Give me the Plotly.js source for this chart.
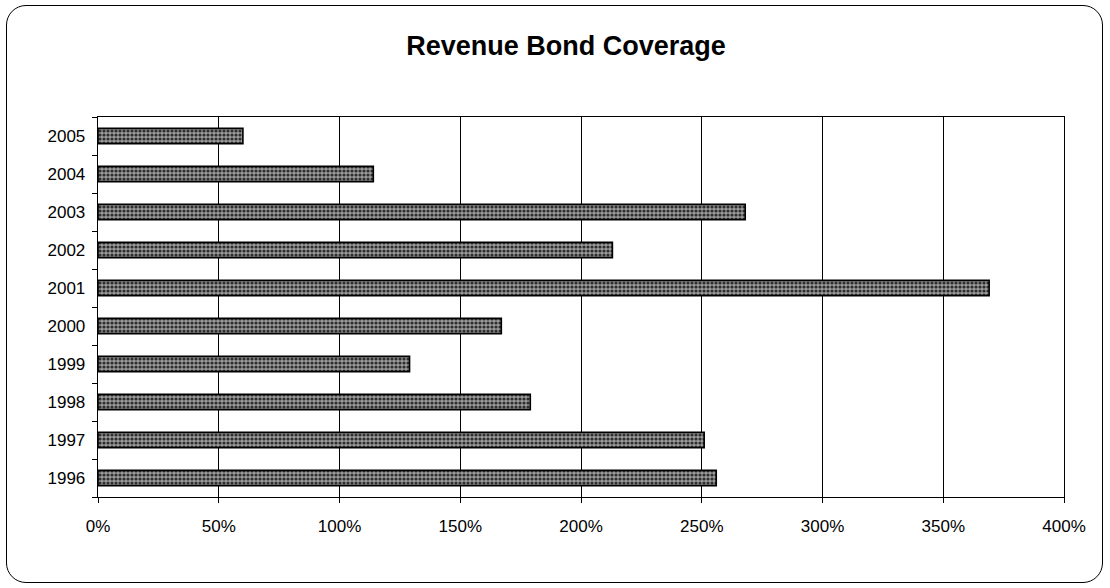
<!DOCTYPE html>
<html>
<head>
<meta charset="utf-8">
<script src="https://cdn.plot.ly/plotly-3.0.1.min.js"></script>
<style>
  html, body { margin: 0; padding: 0; background: #fff; }
  #wrap { position: relative; width: 1110px; height: 588px; }
  #frame { position: absolute; left: 6px; top: 5px; width: 1097px; height: 578px;
           border: 1.3px solid #000; border-radius: 20px; box-sizing: border-box; pointer-events: none; }
  #chart { position: absolute; left: 0; top: 0; width: 1110px; height: 588px; }
</style>
</head>
<body>
<div id="wrap">
  <div id="chart"></div>
  <div id="frame"></div>
</div>
<script>
const years = ['1996', '1997', '1998', '1999', '2000', '2001', '2002', '2003', '2004', '2005'];
const coverage = [2.56, 2.51, 1.79, 1.29, 1.67, 3.69, 2.13, 2.68, 1.14, 0.60];
const xTickVals = [0, 0.5, 1, 1.5, 2, 2.5, 3, 3.5, 4];
const xTickText = ['0%', '50%', '100%', '150%', '200%', '250%', '300%', '350%', '400%'];
const chartTitle = 'Revenue Bond Coverage';

const trace = {
  type: 'bar',
  orientation: 'h',
  y: years,
  x: coverage,
  marker: {
    color: '#8a8a8a',
    line: { color: '#000', width: 1.6 },
    pattern: { shape: '.', fgcolor: '#2e2e2e', bgcolor: '#9c9c9c', size: 4, solidity: 0.5 }
  },
  hoverinfo: 'skip'
};

const layout = {
  width: 1110,
  height: 588,
  paper_bgcolor: 'rgba(0,0,0,0)',
  plot_bgcolor: '#fff',
  margin: { l: 98, r: 46, t: 117, b: 91 },
  bargap: 0.6,
  showlegend: false,
  font: { family: 'Liberation Sans, Arial, sans-serif', color: '#000' },
  title: {
    text: '<b>' + chartTitle + '</b>',
    font: { size: 27, family: 'Liberation Sans, Arial, sans-serif', color: '#000' },
    xref: 'container', x: 0.51, xanchor: 'center',
    yref: 'container', y: 1 - 46 / 588, yanchor: 'middle'
  },
  xaxis: {
    range: [0, 4],
    tickvals: xTickVals,
    ticktext: xTickText,
    showgrid: true,
    gridcolor: '#000',
    gridwidth: 1,
    zeroline: false,
    showline: true,
    linecolor: '#000',
    linewidth: 1.3,
    mirror: true,
    ticks: 'outside',
    ticklen: 5,
    tickcolor: '#000',
    tickfont: { size: 17 },
    ticklabelstandoff: 8
  },
  yaxis: {
    type: 'category',
    categoryorder: 'array',
    categoryarray: years,
    showgrid: false,
    zeroline: false,
    showline: true,
    linecolor: '#000',
    linewidth: 1.3,
    mirror: true,
    ticks: 'outside',
    tickson: 'boundaries',
    ticklen: 5,
    tickcolor: '#000',
    tickfont: { size: 17 },
    ticklabelstandoff: 8
  }
};

Plotly.newPlot('chart', [trace], layout, { displayModeBar: false, staticPlot: true });
</script>
</body>
</html>
